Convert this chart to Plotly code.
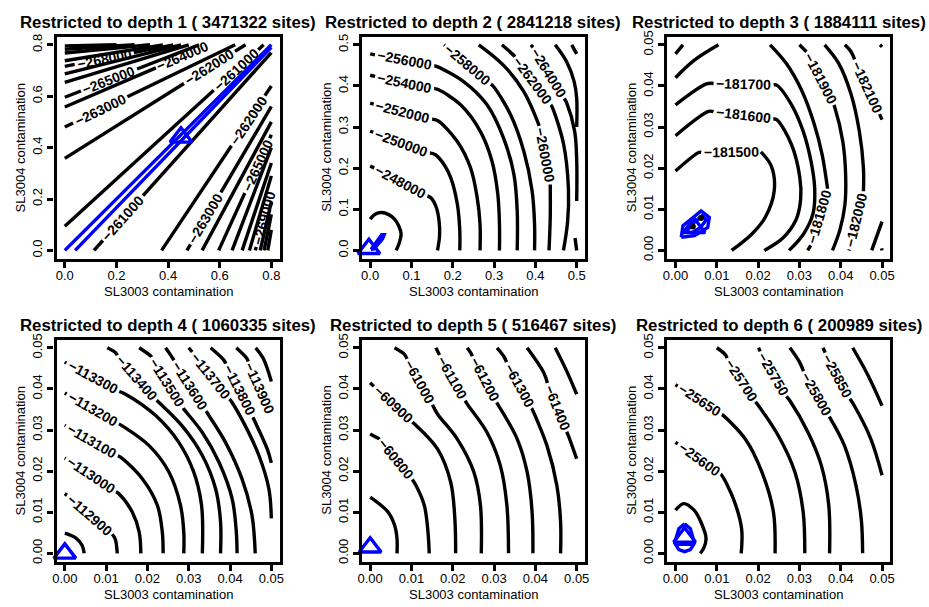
import math
import plotly.graph_objects as go

# ---------------- data ----------------
depths = [1, 2, 3, 4, 5, 6]
sites = [3471322, 2841218, 1884111, 1060335, 516467, 200989]
x_max = [0.8, 0.5, 0.05, 0.05, 0.05, 0.05]

tick_vals_1 = [0.0, 0.2, 0.4, 0.6, 0.8]
tick_text_1 = ["0.0", "0.2", "0.4", "0.6", "0.8"]
tick_vals_2 = [0.0, 0.1, 0.2, 0.3, 0.4, 0.5]
tick_text_2 = ["0.0", "0.1", "0.2", "0.3", "0.4", "0.5"]
tick_vals_s = [0.0, 0.01, 0.02, 0.03, 0.04, 0.05]
tick_text_s = ["0.00", "0.01", "0.02", "0.03", "0.04", "0.05"]

# panel 1: straight contour lines (upper-left family: from left edge to top edge)
p1_ul_levels = [-261000, -262000, -263000, -264000, -265000, -266000, -267000, -268000, -269000, -270000, -271000, -272000]
p1_ul_y0 = [0.094, 0.358, 0.48, 0.558, 0.596, 0.654, 0.687, 0.716, 0.738, 0.768, 0.783, 0.796]
p1_ul_end_x = [0.77, 0.70, 0.66, 0.56, 0.52, 0.48, 0.45, 0.42, 0.38, 0.33, 0.27, 0.20]
p1_ul_end_y = [0.80, 0.80, 0.80, 0.80, 0.80, 0.80, 0.80, 0.80, 0.80, 0.80, 0.80, 0.80]
# lower-right family: from bottom edge to right edge
p1_lr_levels = [-261000, -262000, -263000, -264000, -265000, -266000, -267000, -268000, -269000, -270000, -271000, -272000]
p1_lr_x0 = [0.113, 0.375, 0.473, 0.532, 0.596, 0.648, 0.687, 0.715, 0.738, 0.757, 0.772, 0.786]
p1_lr_end_y = [0.77, 0.64, 0.56, 0.50, 0.45, 0.40, 0.34, 0.29, 0.24, 0.19, 0.14, 0.08]
# label anchors: (line index, x, y); lower-right lines are indexed after the upper-left ones
p1_labels = [(0, 0.665, 0.70), (1, 0.559, 0.714), (2, 0.138, 0.545), (3, 0.46, 0.757), (4, 0.17, 0.666),
             (7, 0.151, 0.755), (12, 0.225, 0.126), (13, 0.71, 0.505), (14, 0.545, 0.125),
             (16, 0.745, 0.33), (20, 0.771, 0.127)]
p1_blue_x = [[0.0, 0.8], [0.04, 0.8]]
p1_blue_y = [[0.0, 0.8], [0.0, 0.79]]
p1_mle = (0.45, 0.44)

# panel 2
p2_levels = [-246000, -248000, -250000, -252000, -254000, -256000, -258000, -260000, -262000, -264000, -264000, -266000, -268000]
p2_x = [
    [0.0, 0.012, 0.027, 0.045, 0.059, 0.069, 0.075, 0.071, 0.063],
    [0.0, 0.04, 0.08, 0.12, 0.147, 0.16, 0.167, 0.168, 0.163],
    [0.0, 0.05, 0.10, 0.159, 0.18, 0.195, 0.211, 0.217, 0.217],
    [0.0, 0.07, 0.163, 0.211, 0.243, 0.259, 0.266, 0.266],
    [0.0, 0.08, 0.163, 0.219, 0.267, 0.295, 0.309, 0.313, 0.313],
    [0.0, 0.08, 0.159, 0.227, 0.283, 0.323, 0.348, 0.356, 0.356],
    [0.179, 0.21, 0.247, 0.299, 0.34, 0.372, 0.392, 0.398, 0.398],
    [0.263, 0.323, 0.372, 0.412, 0.43, 0.436, 0.436, 0.433],
    [0.319, 0.348, 0.396, 0.44, 0.468, 0.48, 0.478, 0.468],
    [0.389, 0.41, 0.436, 0.476, 0.495, 0.5, 0.5],
    [0.496, 0.5],
    [0.448, 0.476, 0.494, 0.5, 0.5],
    [0.488, 0.5],
]
p2_y = [
    [0.076, 0.088, 0.092, 0.087, 0.076, 0.06, 0.04, 0.02, 0.0],
    [0.205, 0.188, 0.166, 0.142, 0.128, 0.105, 0.07, 0.035, 0.0],
    [0.29, 0.272, 0.253, 0.232, 0.207, 0.177, 0.113, 0.048, 0.0],
    [0.358, 0.338, 0.316, 0.265, 0.201, 0.129, 0.064, 0.0],
    [0.426, 0.406, 0.392, 0.354, 0.289, 0.217, 0.137, 0.064, 0.0],
    [0.478, 0.46, 0.448, 0.41, 0.354, 0.273, 0.185, 0.096, 0.0],
    [0.5, 0.478, 0.446, 0.398, 0.33, 0.241, 0.145, 0.064, 0.0],
    [0.5, 0.45, 0.386, 0.297, 0.233, 0.177, 0.08, 0.0],
    [0.5, 0.474, 0.414, 0.35, 0.26, 0.15, 0.07, 0.0],
    [0.5, 0.476, 0.434, 0.358, 0.29, 0.22, 0.12],
    [0.03, 0.0],
    [0.5, 0.458, 0.41, 0.37, 0.30],
    [0.5, 0.478],
]
p2_labels = [(1, 0.075, 0.168), (2, 0.076, 0.262), (3, 0.079, 0.336), (4, 0.083, 0.406), (5, 0.083, 0.46),
             (6, 0.237, 0.452), (7, 0.432, 0.233), (8, 0.396, 0.414), (9, 0.436, 0.434)]
p2_blue_x = [[0.002, 0.028, 0.034, 0.03, 0.01, 0.002]]
p2_blue_y = [[0.002, 0.038, 0.038, 0.028, 0.004, 0.002]]
p2_mle = (-0.003, 0.004)

# panel 3
p3_levels = [-181500, -181600, -181700, -181800, -181800, -181900, -181900, -182000, -182100, -182100, -182200, -182200]
p3_x = [
    [0.0, 0.0056, 0.013, 0.0205, 0.0232, 0.0239, 0.0217, 0.0185, 0.0136],
    [0.0, 0.008, 0.0165, 0.0245, 0.0281, 0.0301, 0.0303, 0.0292, 0.026, 0.0215],
    [0.0, 0.0075, 0.0165, 0.0245, 0.0281, 0.0309, 0.0328, 0.0337, 0.0333, 0.031, 0.0275],
    [0.0, 0.0045, 0.0104],
    [0.0229, 0.0268, 0.0305, 0.0335, 0.0355, 0.0368, 0.0362, 0.0345, 0.032],
    [0.0, 0.0018],
    [0.030, 0.032, 0.0357, 0.0385, 0.0405, 0.0412, 0.041, 0.0398, 0.038],
    [0.0361, 0.0395, 0.0425, 0.0445, 0.0455, 0.0455, 0.044, 0.042],
    [0.041, 0.0425, 0.0464, 0.05],
    [0.05, 0.0475],
    [0.0495, 0.05],
    [0.0499, 0.05],
]
p3_y = [
    [0.0193, 0.0238, 0.0245, 0.0242, 0.0205, 0.0145, 0.008, 0.004, 0.0],
    [0.0279, 0.0338, 0.0333, 0.0318, 0.0257, 0.0177, 0.0125, 0.0075, 0.003, 0.0],
    [0.0354, 0.0405, 0.041, 0.0402, 0.0354, 0.029, 0.0217, 0.015, 0.009, 0.004, 0.0],
    [0.042, 0.0462, 0.05],
    [0.05, 0.0455, 0.039, 0.031, 0.0233, 0.015, 0.0085, 0.004, 0.0],
    [0.0478, 0.05],
    [0.05, 0.048, 0.0422, 0.035, 0.0265, 0.018, 0.011, 0.005, 0.0],
    [0.05, 0.0455, 0.038, 0.029, 0.02, 0.013, 0.007, 0.0],
    [0.05, 0.0483, 0.0398, 0.0318],
    [0.007, 0.0],
    [0.05, 0.0495],
    [0.0005, 0.0],
]
p3_labels = [(0, 0.0135, 0.0245), (1, 0.0165, 0.0335), (2, 0.0165, 0.041), (4, 0.0358, 0.0078),
             (6, 0.0357, 0.0422), (7, 0.0443, 0.0072), (8, 0.0464, 0.0398)]
p3_blue_x = [[0.0014, 0.0018, 0.0038, 0.0062, 0.0082, 0.0078, 0.0046, 0.0014],
             [0.0025, 0.0045, 0.0065, 0.0075, 0.006, 0.004, 0.0025]]
p3_blue_y = [[0.0032, 0.006, 0.0076, 0.0096, 0.008, 0.0056, 0.0036, 0.0032],
             [0.0045, 0.0068, 0.0085, 0.0075, 0.0055, 0.0043, 0.0045]]
p3_mle = (0.0045, 0.0055)
p3_black_pts_x = [0.0042, 0.0062]
p3_black_pts_y = [0.0058, 0.0079]

# panel 4
p4_levels = [-112800, -112900, -113000, -113100, -113200, -113300, -113400, -113500, -113600, -113700, -113800, -113900, -114000]
p4_x = [
    [0.0, 0.0027, 0.0042, 0.0047],
    [0.0, 0.006, 0.0105, 0.0122, 0.0127],
    [0.0, 0.0065, 0.0131, 0.0163, 0.018, 0.0184],
    [0.0, 0.0065, 0.0135, 0.0188, 0.0224, 0.0236, 0.0238],
    [0.0, 0.0067, 0.0139, 0.0204, 0.0252, 0.028, 0.0288, 0.0288],
    [0.0, 0.0065, 0.0147, 0.022, 0.0276, 0.0312, 0.0331, 0.0333],
    [0.0103, 0.0123, 0.0167, 0.0228, 0.0284, 0.0333, 0.0365, 0.0377, 0.0377],
    [0.018, 0.0208, 0.0245, 0.0288, 0.0333, 0.0373, 0.0405, 0.0415, 0.0417],
    [0.0244, 0.0255, 0.03, 0.0349, 0.0389, 0.0429, 0.0453, 0.0461],
    [0.030, 0.0355, 0.0405, 0.0437, 0.047, 0.0494, 0.05],
    [0.0353, 0.0385, 0.042, 0.0461, 0.049, 0.05],
    [0.0415, 0.044, 0.047, 0.05],
    [0.0462, 0.048, 0.05],
]
p4_y = [
    [0.0049, 0.0037, 0.0019, 0.0],
    [0.0145, 0.0102, 0.0062, 0.0035, 0.0],
    [0.0232, 0.019, 0.0145, 0.0101, 0.0052, 0.0],
    [0.0312, 0.027, 0.0234, 0.0181, 0.0117, 0.0052, 0.0],
    [0.039, 0.035, 0.031, 0.0262, 0.0198, 0.0117, 0.0052, 0.0],
    [0.0465, 0.0423, 0.0387, 0.0335, 0.027, 0.0198, 0.0117, 0.0],
    [0.05, 0.0488, 0.0425, 0.0367, 0.031, 0.0238, 0.0157, 0.0077, 0.0],
    [0.05, 0.048, 0.042, 0.0351, 0.0294, 0.0222, 0.0133, 0.0055, 0.0],
    [0.05, 0.0484, 0.0415, 0.0335, 0.027, 0.0181, 0.0093, 0.0],
    [0.05, 0.0433, 0.0367, 0.031, 0.0238, 0.0157, 0.0085],
    [0.05, 0.047, 0.0405, 0.0319, 0.0254, 0.022],
    [0.05, 0.0475, 0.041, 0.034],
    [0.05, 0.0475, 0.0418],
]
p4_labels = [(1, 0.0063, 0.0097), (2, 0.0063, 0.019), (3, 0.0063, 0.027), (4, 0.0067, 0.035), (5, 0.0065, 0.0423),
             (6, 0.0167, 0.042), (7, 0.0248, 0.0415), (8, 0.0302, 0.0407), (9, 0.0352, 0.0431),
             (10, 0.042, 0.0395), (11, 0.0463, 0.0395)]
p4_blue_x = []
p4_blue_y = []
p4_mle = (0.0, 0.0)

# panel 5
p5_levels = [-60700, -60800, -60900, -61000, -61100, -61200, -61300, -61400, -61500]
p5_x = [
    [0.0, 0.0043, 0.0059, 0.0065, 0.0065],
    [0.0, 0.0022, 0.0068, 0.0111, 0.0131, 0.014, 0.0143],
    [0.0, 0.0054, 0.0107, 0.0163, 0.0195, 0.0205, 0.0207],
    [0.0059, 0.0083, 0.0122, 0.0163, 0.0211, 0.0251, 0.0267, 0.0269],
    [0.0159, 0.0195, 0.0235, 0.0283, 0.0315, 0.0331, 0.0335],
    [0.0235, 0.0245, 0.027, 0.0311, 0.0356, 0.038, 0.0392, 0.0394],
    [0.0307, 0.0323, 0.0352, 0.0392, 0.0428, 0.0452, 0.0461, 0.0461],
    [0.038, 0.042, 0.045, 0.048, 0.05],
    [0.0448, 0.0475, 0.05],
]
p5_y = [
    [0.0137, 0.0101, 0.0069, 0.0036, 0.0],
    [0.029, 0.0278, 0.0234, 0.0165, 0.0117, 0.0052, 0.0],
    [0.0415, 0.0361, 0.0315, 0.0254, 0.0173, 0.0085, 0.0],
    [0.05, 0.0484, 0.0415, 0.0339, 0.0278, 0.0198, 0.0117, 0.0],
    [0.05, 0.043, 0.0363, 0.0294, 0.0214, 0.0117, 0.0],
    [0.05, 0.0485, 0.0425, 0.0359, 0.0278, 0.0198, 0.0101, 0.0],
    [0.05, 0.048, 0.042, 0.0351, 0.0262, 0.0165, 0.0077, 0.0],
    [0.05, 0.044, 0.0355, 0.0286, 0.023],
    [0.05, 0.0445, 0.0387],
]
p5_labels = [(1, 0.0069, 0.0234), (2, 0.0054, 0.0361), (3, 0.0125, 0.042), (4, 0.0199, 0.0427),
             (5, 0.0279, 0.0425), (6, 0.0357, 0.0407), (7, 0.0452, 0.0355)]
p5_blue_x = []
p5_blue_y = []
p5_mle = (0.0, 0.0015)

# panel 6
p6_levels = [-25550, -25600, -25650, -25700, -25750, -25800, -25850, -25900]
p6_x = [
    [0.0, 0.002, 0.0045, 0.0062, 0.0074, 0.0068, 0.006],
    [0.0, 0.0058, 0.0112, 0.014, 0.016, 0.0159],
    [0.0, 0.0058, 0.0116, 0.0169, 0.0209, 0.0237, 0.0241],
    [0.01, 0.012, 0.0157, 0.0201, 0.0249, 0.0289, 0.0309, 0.0313],
    [0.0201, 0.0235, 0.0277, 0.0321, 0.0353, 0.0371, 0.0373],
    [0.0277, 0.0301, 0.033, 0.0369, 0.0409, 0.0437, 0.045, 0.0453],
    [0.0357, 0.0385, 0.0433, 0.0473, 0.05],
    [0.0429, 0.0465, 0.05],
]
p6_y = [
    [0.0105, 0.0121, 0.0105, 0.0075, 0.0036, 0.0012, 0.0],
    [0.027, 0.023, 0.019, 0.0133, 0.006, 0.0],
    [0.041, 0.0371, 0.0335, 0.0278, 0.0198, 0.0101, 0.0],
    [0.05, 0.0484, 0.0415, 0.0359, 0.0286, 0.0198, 0.0101, 0.0],
    [0.05, 0.0425, 0.0371, 0.0294, 0.0214, 0.0117, 0.0],
    [0.05, 0.0464, 0.0395, 0.0339, 0.0262, 0.0165, 0.008, 0.0],
    [0.05, 0.0435, 0.0359, 0.0278, 0.019],
    [0.05, 0.0435, 0.0359],
]
p6_labels = [(1, 0.0058, 0.023), (2, 0.0058, 0.0371), (3, 0.0157, 0.042), (4, 0.0235, 0.0435),
             (5, 0.0339, 0.0387), (6, 0.0393, 0.0433)]
p6_blue_x = [[0.0022, 0.0036, 0.0046, 0.0036, 0.0022, 0.0008, -0.0002, 0.0008, 0.0022],
             [0.0004, 0.004]]
p6_blue_y = [[0.0072, 0.006, 0.0025, 0.0009, 0.0004, 0.0009, 0.0025, 0.006, 0.0072],
             [0.0022, 0.0022]]
p6_mle = (0.0022, 0.0039)

# ---------------- assemble panel 1 line lists ----------------
p1_levels = p1_ul_levels + p1_lr_levels
p1_x = [[0.0, ex] for ex in p1_ul_end_x] + [[x0, 0.8] for x0 in p1_lr_x0]
p1_y = [[y0, ey] for y0, ey in zip(p1_ul_y0, p1_ul_end_y)] + [[0.0, ey] for ey in p1_lr_end_y]

panels = [
    dict(levels=p1_levels, xs=p1_x, ys=p1_y, labels=p1_labels, bx=p1_blue_x, by=p1_blue_y, mle=p1_mle,
         tv=tick_vals_1, tt=tick_text_1),
    dict(levels=p2_levels, xs=p2_x, ys=p2_y, labels=p2_labels, bx=p2_blue_x, by=p2_blue_y, mle=p2_mle,
         tv=tick_vals_2, tt=tick_text_2),
    dict(levels=p3_levels, xs=p3_x, ys=p3_y, labels=p3_labels, bx=p3_blue_x, by=p3_blue_y, mle=p3_mle,
         tv=tick_vals_s, tt=tick_text_s),
    dict(levels=p4_levels, xs=p4_x, ys=p4_y, labels=p4_labels, bx=p4_blue_x, by=p4_blue_y, mle=p4_mle,
         tv=tick_vals_s, tt=tick_text_s),
    dict(levels=p5_levels, xs=p5_x, ys=p5_y, labels=p5_labels, bx=p5_blue_x, by=p5_blue_y, mle=p5_mle,
         tv=tick_vals_s, tt=tick_text_s),
    dict(levels=p6_levels, xs=p6_x, ys=p6_y, labels=p6_labels, bx=p6_blue_x, by=p6_blue_y, mle=p6_mle,
         tv=tick_vals_s, tt=tick_text_s),
]

# ---------------- layout constants ----------------
W, H = 929, 607
FONT = "Liberation Sans, Arial, Helvetica, sans-serif"
BOXES = [(53, 31, 278, 256), (361, 31, 586, 256), (669, 31, 894, 256),
         (53, 338, 278, 563), (361, 338, 586, 563), (669, 338, 894, 563)]
LAB_FS = 14
LINE_W = 3.4


def cut_line(xs, ys, sx, sy, label_pts, fs):
    P = [(x * sx, y * sy) for x, y in zip(xs, ys)]
    cum = [0.0]
    for i in range(1, len(P)):
        cum.append(cum[-1] + math.hypot(P[i][0] - P[i - 1][0], P[i][1] - P[i - 1][1]))
    total = cum[-1]

    def at(s):
        s = max(0.0, min(total, s))
        for i in range(1, len(P)):
            if s <= cum[i] or i == len(P) - 1:
                L = cum[i] - cum[i - 1]
                t = 0.0 if L == 0 else (s - cum[i - 1]) / L
                return (P[i - 1][0] + t * (P[i][0] - P[i - 1][0]), P[i - 1][1] + t * (P[i][1] - P[i - 1][1]))
        return P[-1]

    gaps, labs = [], []
    for lx, ly, text in label_pts:
        q = (lx * sx, ly * sy)
        best = None
        for i in range(1, len(P)):
            a, b = P[i - 1], P[i]
            dx, dy = b[0] - a[0], b[1] - a[1]
            L2 = dx * dx + dy * dy
            t = 0.0 if L2 == 0 else max(0.0, min(1.0, ((q[0] - a[0]) * dx + (q[1] - a[1]) * dy) / L2))
            px, py = a[0] + t * dx, a[1] + t * dy
            d = math.hypot(q[0] - px, q[1] - py)
            if best is None or d < best[0]:
                best = (d, cum[i - 1] + t * math.sqrt(L2))
        s0 = best[1]
        half = fs * (0.584 + 0.556 * (len(text) - 1)) / 2 + 3
        gaps.append((s0 - half, s0 + half))
        a, b = at(s0 - half), at(s0 + half)
        ang = math.degrees(math.atan2(-(b[1] - a[1]), b[0] - a[0]))
        if ang > 90:
            ang -= 180
        if ang <= -90:
            ang += 180
        labs.append(((a[0] + b[0]) / 2 / sx, (a[1] + b[1]) / 2 / sy, ang, text))
    pieces = []
    cur = 0.0
    for g0, g1 in sorted(gaps):
        if g0 > cur:
            pieces.append((cur, g0))
        cur = max(cur, g1)
    if cur < total:
        pieces.append((cur, total))
    ox, oy = [], []
    for sa, sb in pieces:
        pts = [at(sa)] + [P[i] for i in range(len(P)) if sa < cum[i] < sb] + [at(sb)]
        for p in pts:
            ox.append(p[0] / sx)
            oy.append(p[1] / sy)
        ox.append(None)
        oy.append(None)
    return ox, oy, labs


def fmt_level(v):
    return ("\u2212" + str(abs(v))) if v < 0 else str(v)


fig = go.Figure()
annotations = []
layout_axes = {}

for k, pan in enumerate(panels):
    n = k + 1
    xa = "x" if n == 1 else "x%d" % n
    ya = "y" if n == 1 else "y%d" % n
    left, top, right, bottom = BOXES[k]
    xm = x_max[k]
    rng = [-0.04 * xm, 1.04 * xm]
    sx = (right - left) / (rng[1] - rng[0])
    sy = (bottom - top) / (rng[1] - rng[0])

    lab_by_line = {}
    for li, lx, ly in pan["labels"]:
        lab_by_line.setdefault(li, []).append((lx, ly, fmt_level(pan["levels"][li])))

    allx, ally = [], []
    for li, (xs, ys) in enumerate(zip(pan["xs"], pan["ys"])):
        ox, oy, labs = cut_line(xs, ys, sx, sy, lab_by_line.get(li, []), LAB_FS)
        allx += ox
        ally += oy
        for cx, cy, ang, text in labs:
            annotations.append(dict(x=cx, y=cy, xref=xa, yref=ya, text="<b>%s</b>" % text, showarrow=False,
                                    textangle=ang, xanchor="center", yanchor="middle",
                                    font=dict(family=FONT, size=LAB_FS, color="black")))
    fig.add_trace(go.Scatter(x=allx, y=ally, mode="lines", xaxis=xa, yaxis=ya,
                             line=dict(color="black", width=LINE_W, shape="spline", smoothing=1.0),
                             hoverinfo="skip", showlegend=False))
    bx, by = [], []
    for xs, ys in zip(pan["bx"], pan["by"]):
        bx += list(xs) + [None]
        by += list(ys) + [None]
    if bx:
        fig.add_trace(go.Scatter(x=bx, y=by, mode="lines", xaxis=xa, yaxis=ya,
                                 line=dict(color="#0000FF", width=LINE_W), hoverinfo="skip", showlegend=False))
    if k == 2:
        fig.add_trace(go.Scatter(x=p3_black_pts_x, y=p3_black_pts_y, mode="markers", xaxis=xa, yaxis=ya,
                                 marker=dict(color="black", size=6, symbol="circle"),
                                 hoverinfo="skip", showlegend=False))
    fig.add_trace(go.Scatter(x=[pan["mle"][0]], y=[pan["mle"][1]], mode="markers", xaxis=xa, yaxis=ya,
                             marker=dict(symbol="triangle-up-open", size=19, color="#0000FF",
                                         line=dict(color="#0000FF", width=3.4)),
                             cliponaxis=False, hoverinfo="skip", showlegend=False))

    common = dict(showline=True, linewidth=3.4, linecolor="black", mirror=True, showgrid=False, zeroline=False,
                  ticks="outside", ticklen=6, tickwidth=2.5, tickcolor="black", range=rng,
                  tickmode="array", tickvals=pan["tv"], ticktext=pan["tt"],
                  tickfont=dict(family=FONT, size=13, color="black"), fixedrange=True)
    layout_axes["xaxis" if n == 1 else "xaxis%d" % n] = dict(
        common, domain=[left / W, right / W], anchor=ya, ticklabelstandoff=-3)
    layout_axes["yaxis" if n == 1 else "yaxis%d" % n] = dict(
        common, domain=[1 - bottom / H, 1 - top / H], anchor=xa, tickangle=-90)

    cxp = (left + right) / 2
    annotations.append(dict(x=cxp / W, y=1 - (top - 14) / H, xref="paper", yref="paper",
                            text="<b>Restricted to depth %d ( %d sites)</b>" % (depths[k], sites[k]),
                            showarrow=False, xanchor="center", yanchor="middle",
                            font=dict(family=FONT, size=16.8, color="black")))
    annotations.append(dict(x=cxp / W, y=1 - (bottom + 33) / H, xref="paper", yref="paper",
                            text="SL3003 contamination", showarrow=False, xanchor="center", yanchor="middle",
                            font=dict(family=FONT, size=13, color="black")))
    annotations.append(dict(x=(left - 36) / W, y=1 - ((top + bottom) / 2) / H, xref="paper", yref="paper",
                            text="SL3004 contamination", showarrow=False, xanchor="center", yanchor="middle",
                            textangle=-90, font=dict(family=FONT, size=13, color="black")))

fig.update_layout(width=W, height=H, margin=dict(l=0, r=0, t=0, b=0), autosize=False,
                  paper_bgcolor="white", plot_bgcolor="white", showlegend=False,
                  annotations=annotations, **layout_axes)

fig.write_html("out.html", config={"displayModeBar": False},
               post_script="document.body.style.margin='0';")
